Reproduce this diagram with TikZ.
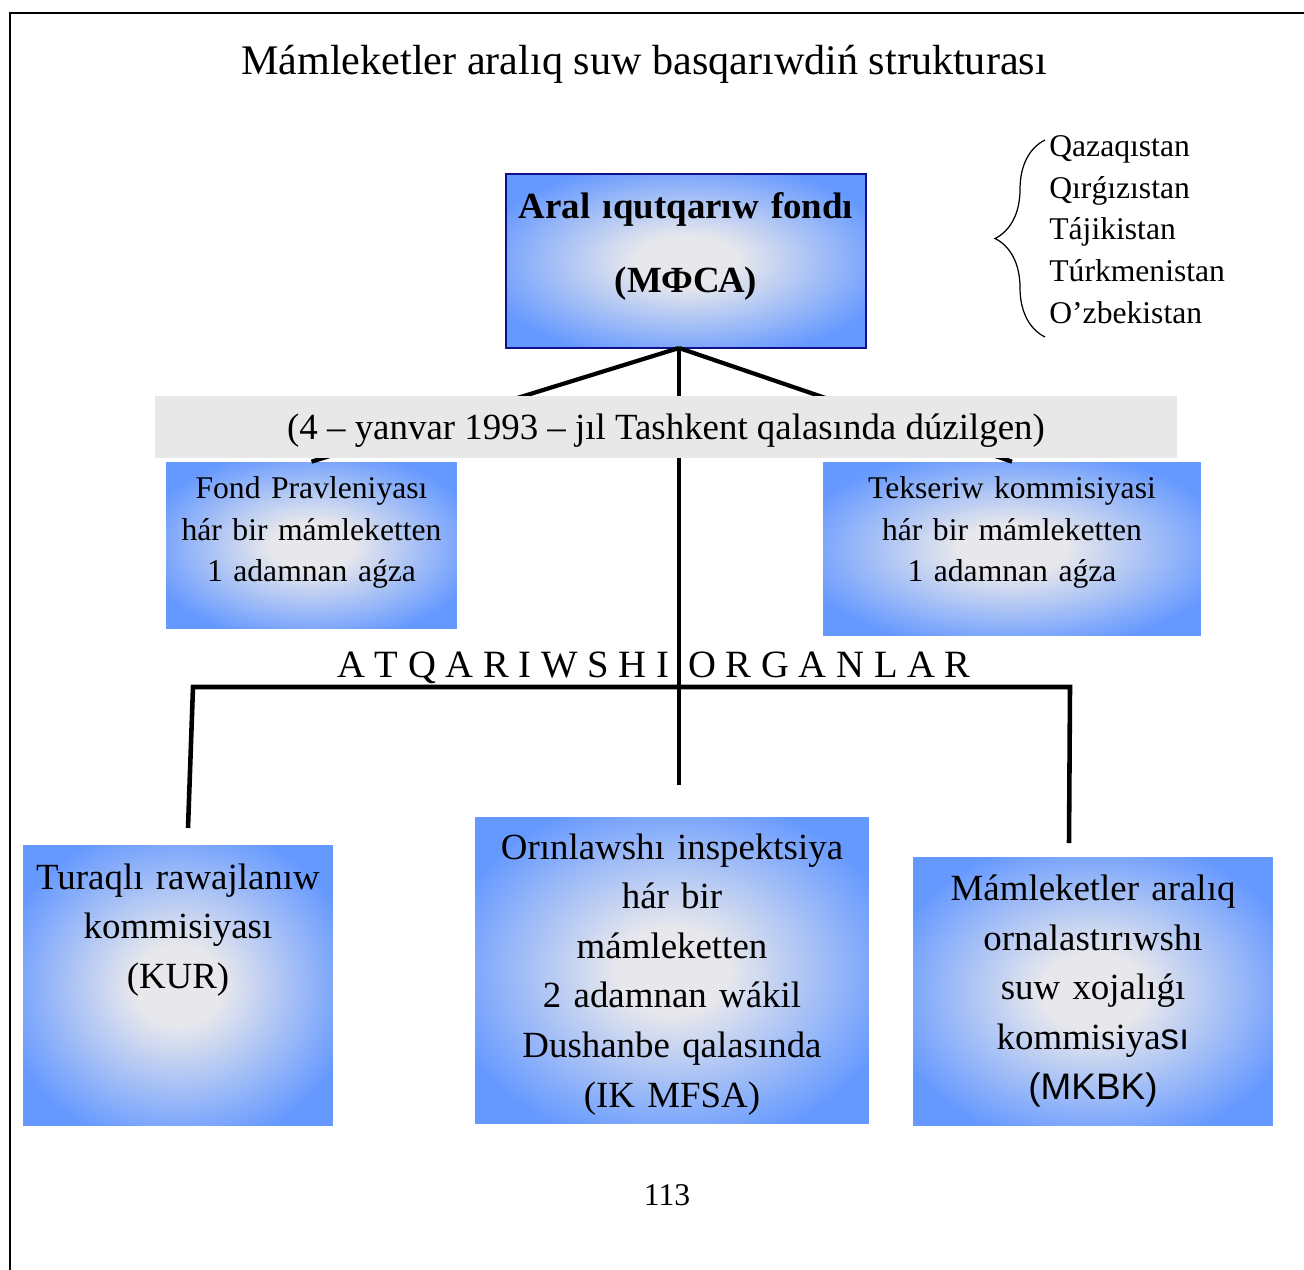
\documentclass[tikz,border=0pt]{standalone}
\usepackage{fontspec}
\setmainfont{Liberation Serif}
\setsansfont{Liberation Sans}
\usetikzlibrary{positioning,decorations.pathreplacing}

\definecolor{boxblue}{HTML}{6699FF}
\definecolor{boxglow}{HTML}{E8E8EC}
\definecolor{bandgray}{HTML}{E8E8E8}
\definecolor{fundedge}{HTML}{10108C}
\pgfdeclareradialshading{glowbox}{\pgfpoint{0bp}{0bp}}{color(0bp)=(boxglow); color(7bp)=(boxglow); color(29bp)=(boxblue); color(50bp)=(boxblue)}

\begin{document}
\begin{tikzpicture}[x=0.02cm,y=-0.02cm,
	glownode/.style={rectangle,shading=glowbox,inner sep=0pt,align=center},
	smallbox/.style={glownode,font=\fontsize{18}{23.8}\selectfont},
	bigbox/.style={glownode,font=\fontsize{21}{28.2}\selectfont},
	link/.style={line width=2.4pt}]
		\useasboundingbox (0,0) rectangle (1304,1270);
		\draw[line width=1pt] (10,1270) -- (10,13) -- (1304,13);

		\node[anchor=base,font=\fontsize{24}{29}\selectfont]		(title)	at (644,75)		{Mámleketler aralıq suw basqarıwdiń strukturası};

		\node[anchor=north west,inner sep=0pt,text width=4.5cm,align=left,font=\fontsize{18}{23.8}\selectfont]	(lands)	at (1049,135)	{Qazaqıstan\\Qırǵızıstan\\Tájikistan\\Túrkmenistan\\O’zbekistan};
		\draw[decorate,decoration={brace,amplitude=1cm},line width=0.7pt] (1045,337) -- (1045,140);

		\node[glownode,draw=fundedge,line width=0.8pt,minimum width=7.2cm,minimum height=3.48cm,text width=7cm,text depth=2.23cm,font=\bfseries\fontsize{21}{42.5}\selectfont]	(fund)	at (686,261)	{Aral ıqutqarıw fondı\\(МФСА)};
		\node[smallbox,minimum width=5.82cm,minimum height=3.34cm,text width=5.6cm,text depth=2.33cm]	(board)	at (311.5,545.5)	{Fond Pravleniyası\\hár bir mámleketten\\1 adamnan aǵza};
		\node[smallbox,minimum width=7.56cm,minimum height=3.48cm,text width=7.3cm,text depth=2.47cm]	(audit)	at (1012,549)	{Tekseriw kommisiyasi\\hár bir mámleketten\\1 adamnan aǵza};

		\coordinate (hub)	at (679,348);
		\coordinate (stem)	at (679,785);
		\draw[link] (hub) -- (board.north);
		\draw[link] (hub) -- (audit.north);
		\draw[link] (hub) -- (stem);

		\node[fill=bandgray,minimum width=20.46cm,minimum height=1.24cm,inner sep=0pt,text depth=0pt,font=\fontsize{21}{25}\selectfont]	(date)	at (666,427)	{(4 – yanvar 1993 – jıl Tashkent qalasında dúzilgen)};

		\node[anchor=base,font=\fontsize{22}{26}\selectfont]		(organs)	at (654,677)	{A T Q A R I W S H I\ \ O R G A N L A R};

		\coordinate (barL)	at (193,687);
		\coordinate (barR)	at (1070,687);
		\coordinate (dropL)	at (188,828);
		\coordinate (dropR)	at (1069,843);
		\draw[line width=2.6pt] (dropL) -- (barL) -- (barR) -- (dropR);

		\node[bigbox,minimum width=6.2cm,minimum height=5.62cm,text width=6cm,text depth=4.37cm]	(kur)	at (178,985.5)	{Turaqlı rawajlanıw\\kommisiyası\\(KUR)};
		\node[bigbox,minimum width=7.88cm,minimum height=6.14cm,text width=7.6cm,text depth=4.96cm]	(inspect)	at (672,970.5)	{Orınlawshı inspektsiya\\hár bir\\mámleketten\\2 adamnan wákil\\Dushanbe qalasında\\(IK MFSA)};
		\node[bigbox,minimum width=7.2cm,minimum height=5.38cm,text width=7cm,text depth=4.14cm]	(water)	at (1093,991.5)	{Mámleketler aralıq\\ornalastırıwshı\\suw xojalıǵı\\kommisiya{\sffamily sı}\\{\sffamily (MKBK)}};

		\node[anchor=base,font=\fontsize{18}{22}\selectfont]		(page)	at (667,1205)	{113};
	\end{tikzpicture}
\end{document}
